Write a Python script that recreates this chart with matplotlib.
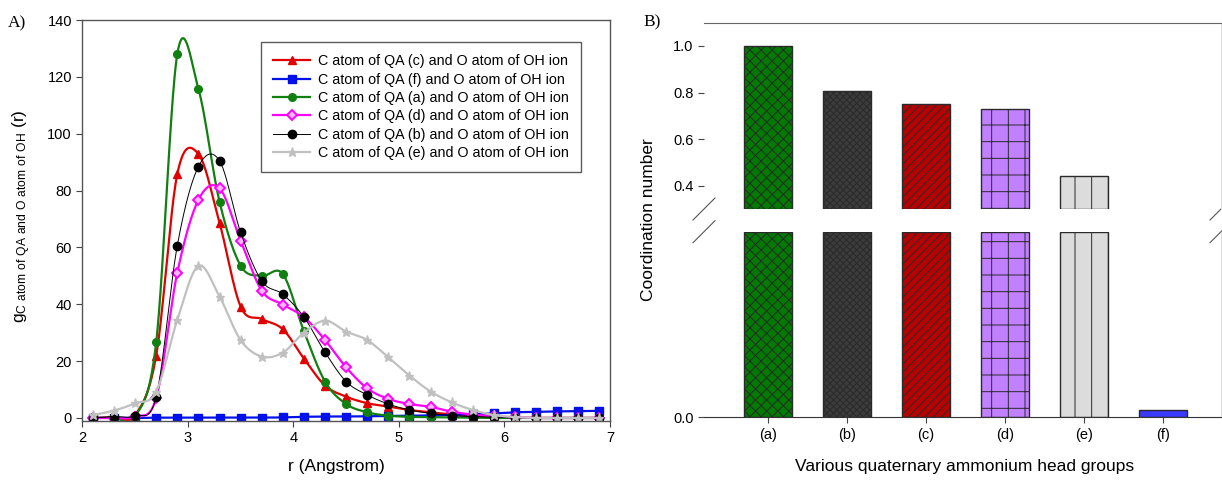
import numpy as np
import matplotlib
matplotlib.use('Agg')
import matplotlib.pyplot as plt

plt.rcParams['font.family'] = ['Liberation Sans', 'DejaVu Sans']
plt.rcParams['mathtext.default'] = 'regular'
plt.rcParams['hatch.linewidth'] = 0.7

# --- panel A: radial distribution functions C(QA) - O(OH) ---
r = [2.1, 2.3, 2.5, 2.7, 2.9, 3.1, 3.3, 3.5, 3.7, 3.9, 4.1, 4.3, 4.5,
     4.7, 4.9, 5.1, 5.3, 5.5, 5.7, 5.9, 6.1, 6.3, 6.5, 6.7, 6.9]

g_c = [0.0, 0.3, 1.0, 21.9, 85.8, 92.9, 68.7, 39.2, 34.8, 31.2, 20.9, 11.4, 7.5,
       5.2, 4.0, 2.8, 2.0, 1.2, 0.7, 0.3, 0.1, 0.0, 0.0, 0.0, 0.0]
g_f = [0.0, 0.0, 0.0, 0.1, 0.1, 0.1, 0.1, 0.1, 0.1, 0.2, 0.4, 0.5, 0.5,
       0.6, 0.7, 0.8, 0.9, 1.1, 1.3, 1.6, 2.0, 2.1, 2.3, 2.4, 2.5]
g_a = [0.0, 0.1, 0.5, 26.6, 128.0, 115.8, 76.1, 53.6, 50.0, 50.6, 30.5, 12.8, 4.9,
       2.0, 0.8, 0.4, 0.3, 0.2, 0.1, 0.0, 0.0, 0.0, 0.0, 0.0, 0.0]
g_d = [0.0, 0.0, 0.5, 7.0, 51.1, 76.7, 80.8, 62.4, 44.8, 39.9, 35.5, 27.4, 17.8,
       10.4, 6.7, 4.9, 3.9, 2.2, 1.2, 0.6, 0.2, 0.0, 0.0, 0.0, 0.0]
g_b = [0.0, 0.5, 0.8, 7.5, 60.6, 88.4, 90.5, 65.3, 48.2, 43.5, 35.5, 23.1, 12.8,
       8.1, 4.9, 2.8, 1.6, 0.8, 0.5, 0.2, 0.0, 0.0, 0.0, 0.0, 0.0]
g_e = [1.0, 2.6, 5.2, 9.3, 34.5, 53.5, 42.7, 27.4, 21.6, 23.0, 30.0, 34.2, 30.4,
       27.4, 21.3, 14.9, 9.3, 5.5, 2.8, 1.0, 0.3, 0.0, 0.0, 0.0, 0.0]

rdf_labels = ['C atom of QA (c) and O atom of OH ion',
              'C atom of QA (f) and O atom of OH ion',
              'C atom of QA (a) and O atom of OH ion',
              'C atom of QA (d) and O atom of OH ion',
              'C atom of QA (b) and O atom of OH ion',
              'C atom of QA (e) and O atom of OH ion']

# --- panel B: coordination numbers ---
groups = ['(a)', '(b)', '(c)', '(d)', '(e)', '(f)']
coord_num = [1.0, 0.808, 0.75, 0.728, 0.443, 0.012]


def smooth(x, y, n=24):
    # Catmull-Rom curve through the sampled points
    x = np.asarray(x, float)
    y = np.asarray(y, float)
    yp = np.concatenate(([2 * y[0] - y[1]], y, [2 * y[-1] - y[-2]]))
    t = np.linspace(0, 1, n, endpoint=False)
    h00 = 2 * t**3 - 3 * t**2 + 1
    h10 = t**3 - 2 * t**2 + t
    h01 = -2 * t**3 + 3 * t**2
    h11 = t**3 - t**2
    xs, ys = [], []
    for i in range(len(x) - 1):
        p0, p1, p2, p3 = yp[i:i + 4]
        m1 = (p2 - p0) / 2
        m2 = (p3 - p1) / 2
        ys.append(h00 * p1 + h10 * m1 + h01 * p2 + h11 * m2)
        xs.append(x[i] + t * (x[i + 1] - x[i]))
    xs.append([x[-1]])
    ys.append([y[-1]])
    return np.concatenate(xs), np.concatenate(ys)


W, H = 1222, 484
fig = plt.figure(figsize=(W / 100, H / 100), dpi=100)


def px_axes(left, top, right, bottom):
    return fig.add_axes([left / W, 1 - bottom / H, (right - left) / W, (bottom - top) / H])


ax = px_axes(82.3, 20, 610, 420.8)

styles = [
    (g_c, dict(color='#e00000', lw=1.6, marker='^', ms=6)),
    (g_f, dict(color='#0010e8', lw=1.6, marker='s', ms=5.5)),
    (g_a, dict(color='#108010', lw=1.6, marker='o', ms=5.5)),
    (g_d, dict(color='#ff00ff', lw=1.6, marker='D', ms=5, mfc='#ffb8ff', mew=1.4)),
    (g_b, dict(color='black', lw=0.7, marker='o', ms=6)),
    (g_e, dict(color='#c0c0c0', lw=1.6, marker='*', ms=6.5)),
]

for (vals, st), lab in zip(styles, rdf_labels):
    xs, ys = smooth(r, vals)
    ax.plot(xs, ys, color=st['color'], lw=st['lw'])
    mk = dict(st)
    mk.pop('lw')
    ax.plot(r, vals, ls='none', **mk)
    # legend entry: line plus marker
    ax.plot([], [], lw=st['lw'], label=lab, **mk)

ax.set_xlim(2, 7)
ax.set_ylim(-1, 140)
ax.set_xticks([2, 3, 4, 5, 6, 7])
ax.set_yticks(np.arange(0, 141, 20))
ax.tick_params(direction='out', length=4, labelsize=10.5, color='#444444')
for s in ax.spines.values():
    s.set_color('#555555')
    s.set_linewidth(1)

leg = ax.legend(loc='upper left', bbox_to_anchor=(261 / W, 1 - 42.3 / H),
                bbox_transform=fig.transFigure, fontsize=10.3, frameon=True,
                fancybox=False, borderpad=0.85, labelspacing=0.3,
                handlelength=2.6, handletextpad=0.5, borderaxespad=0)
leg.get_frame().set_edgecolor('#333333')
leg.get_frame().set_linewidth(1)

fig.text(22 / W, 1 - 216 / H,
         r'$g_{C\ atom\ of\ QA\ and\ O\ atom\ of\ OH}$ (r)',
         rotation=90, ha='center', va='center', fontsize=12.5)
fig.text(336 / W, 1 - 467 / H, 'r (Angstrom)', ha='center', va='center', fontsize=12.5)
fig.text(17 / W, 1 - 23 / H, 'A)', ha='center', va='center', fontsize=12.5,
         family='Liberation Serif')

# --- panel B: broken y axis ---
split = 0.3
ax_hi = px_axes(704, 22.7, 1221, 209)
ax_lo = px_axes(704, 231.7, 1221, 417.3)

bar_colors = ['#007a00', '#3c3c3c', '#b80000', '#c080ff', '#dcdcdc', '#3a3aff']
bar_hatches = ['xxx', 'xxxxx', '////', '+', '|', None]
pos = np.arange(len(groups))
vals = np.array(coord_num)

for i in range(len(groups)):
    common = dict(width=0.61, color=bar_colors[i], edgecolor='#2a2a2a',
                  linewidth=1, hatch=bar_hatches[i])
    if vals[i] > split:
        ax_hi.bar(pos[i], vals[i] - split, bottom=split, **common)
    ax_lo.bar(pos[i], min(vals[i], split), **common)

for a in (ax_hi, ax_lo):
    a.set_xlim(-0.81, 5.73)
    for s in a.spines.values():
        s.set_visible(False)
    a.spines['right'].set_visible(True)
    a.spines['right'].set_color('#dddddd')
    a.tick_params(direction='out', length=4, labelsize=10.5, color='#444444')

ax_hi.set_ylim(split, 1.1)
ax_hi.set_yticks([0.4, 0.6, 0.8, 1.0])
ax_hi.set_yticklabels(['0.4', '0.6', '0.8', '1.0'])
ax_hi.set_xticks([])
ax_hi.spines['top'].set_visible(True)
ax_hi.spines['top'].set_color('#666666')

ax_lo.set_ylim(0, split)
ax_lo.set_yticks([0.0])
ax_lo.set_yticklabels(['0.0'])
ax_lo.set_xticks(pos)
ax_lo.set_xticklabels(groups)
ax_lo.spines['bottom'].set_visible(True)
ax_lo.spines['bottom'].set_color('#333333')

# break marks on both ends of the y axis
dx = 11 / 517
for a, yb in ((ax_hi, 0), (ax_lo, 1)):
    dy = 11 / (a.get_position().height * H)
    for xb in (0, 1):
        a.plot([xb - dx, xb + dx], [yb - dy, yb + dy], transform=a.transAxes,
               color='#555555', lw=0.8, clip_on=False)

fig.text(649 / W, 1 - 220 / H, 'Coordination number', rotation=90,
         ha='center', va='center', fontsize=12.5)
fig.text(965 / W, 1 - 467 / H, 'Various quaternary ammonium head groups',
         ha='center', va='center', fontsize=12.5)
fig.text(652 / W, 1 - 22.5 / H, 'B)', ha='center', va='center', fontsize=12.5,
         family='Liberation Serif')

fig.savefig('out.png', dpi=100)
